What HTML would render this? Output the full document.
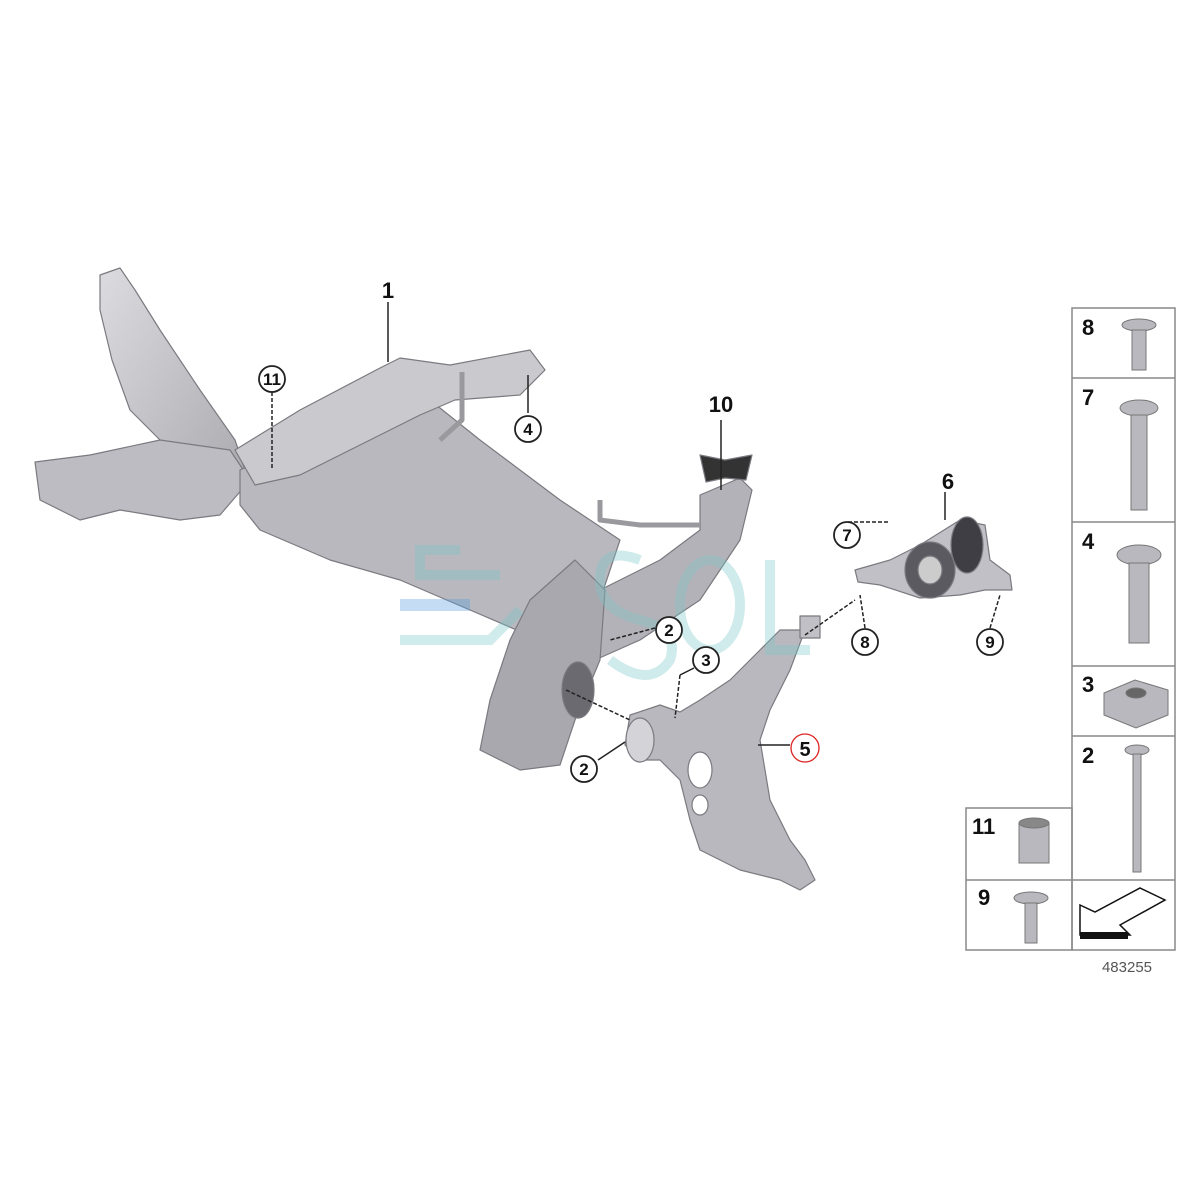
<!DOCTYPE html>
<html><head><meta charset="utf-8"><style>
html,body{margin:0;padding:0;background:#fff;}
svg{display:block}
text{font-family:"Liberation Sans",sans-serif;font-weight:bold;fill:#111}
</style></head><body>
<svg width="1200" height="1200" viewBox="0 0 1200 1200">
<defs>
<linearGradient id="g" x1="0" y1="0" x2="1" y2="1"><stop offset="0" stop-color="#dcdce0"/><stop offset="1" stop-color="#a8a8ae"/></linearGradient>
</defs>
<g stroke="#7a7a80" stroke-width="1.2" stroke-linejoin="round">
<!-- left tower -->
<path d="M100,275 L120,268 L135,290 L160,330 L200,390 L235,440 L245,470 L210,500 L190,470 L160,440 L130,410 L112,360 L100,310 Z" fill="url(#g)"/>
<!-- left bracket -->
<path d="M35,462 L90,455 L160,440 L230,450 L250,480 L220,515 L180,520 L120,510 L80,520 L40,500 Z" fill="#bcbcc2"/>
<!-- center body -->
<path d="M240,470 L330,430 L430,400 L480,440 L560,500 L620,540 L600,600 L580,650 L540,640 L470,610 L400,580 L330,560 L260,530 L240,505 Z" fill="#b8b8be"/>
<!-- top rail -->
<path d="M235,450 L300,410 L380,368 L400,358 L450,365 L530,350 L545,370 L520,395 L455,400 L420,415 L360,445 L300,475 L255,485 Z" fill="#cacace"/>
<!-- right arm -->
<path d="M700,495 L740,478 L752,490 L740,540 L700,600 L640,640 L595,660 L575,640 L600,590 L660,560 L700,530 Z" fill="#b2b2b8"/>
<!-- front leg -->
<path d="M530,600 L575,560 L605,590 L600,660 L575,720 L560,765 L520,770 L480,750 L490,700 L510,640 Z" fill="#a8a8ae"/>
<ellipse cx="578" cy="690" rx="16" ry="28" fill="#6a6a70"/>
<!-- control arm -->
<path d="M630,715 L660,705 L680,712 L700,700 L730,680 L760,650 L780,630 L805,630 L790,670 L770,710 L760,740 L770,800 L790,840 L805,860 L815,880 L800,890 L780,880 L740,870 L700,850 L690,820 L680,780 L660,760 L640,760 L625,745 Z" fill="#b8b8be"/>
<ellipse cx="640" cy="740" rx="14" ry="22" fill="#d4d4d8"/>
<ellipse cx="700" cy="770" rx="12" ry="18" fill="#fff"/>
<ellipse cx="700" cy="805" rx="8" ry="10" fill="#fff"/>
<rect x="800" y="616" width="20" height="22" fill="#c0c0c6"/>
<!-- part 6 mount -->
<path d="M855,570 L890,560 L920,545 L960,520 L985,525 L990,560 L1010,575 L1012,590 L985,590 L960,595 L920,598 L880,585 L858,582 Z" fill="#c0c0c6"/>
<ellipse cx="930" cy="570" rx="25" ry="28" fill="#5a5a60"/>
<ellipse cx="930" cy="570" rx="12" ry="14" fill="#ccc"/>
<ellipse cx="967" cy="545" rx="16" ry="28" fill="#3e3e44"/>
<path d="M700,455 L725,460 L752,455 L746,480 L725,478 L706,482 Z" fill="#333"/>
<path d="M600,500 L600,520 L640,525 L700,525" fill="none" stroke="#9a9a9e" stroke-width="5"/>
<path d="M462,372 L462,420 L440,440" fill="none" stroke="#9a9a9e" stroke-width="5"/>
</g>
<!-- watermark -->
<g fill="none" opacity="0.35" stroke-width="10">
<path d="M400,605 L470,605" stroke="#5aa0e0" stroke-width="12"/>
<path d="M460,550 L420,550 L420,575 L500,575" stroke="#7cc8c8"/>
<path d="M400,640 L490,640 L520,610" stroke="#7cc8c8"/>
<path d="M640,560 Q600,545 600,580 Q600,610 640,620 Q680,630 670,660 Q650,690 610,660" stroke="#7cc8c8"/>
<ellipse cx="710" cy="605" rx="30" ry="45" stroke="#7cc8c8"/>
<path d="M770,560 L770,650 L810,650" stroke="#7cc8c8"/>
</g>
<g stroke="#222" stroke-width="1.5" fill="none">
<line x1="388" y1="302" x2="388" y2="362"/>
<line x1="272" y1="392" x2="272" y2="470" stroke-dasharray="4,2"/>
<line x1="528" y1="375" x2="528" y2="413"/>
<line x1="721" y1="420" x2="721" y2="490"/>
<line x1="945" y1="492" x2="945" y2="520"/>
<line x1="848" y1="522" x2="890" y2="522" stroke-dasharray="4,2"/>
<line x1="865" y1="628" x2="860" y2="595" stroke-dasharray="4,2"/>
<line x1="990" y1="628" x2="1000" y2="595" stroke-dasharray="4,2"/>
<line x1="655" y1="628" x2="610" y2="640" stroke-dasharray="4,2"/>
<line x1="694" y1="668" x2="680" y2="675"/>
<line x1="680" y1="675" x2="675" y2="718" stroke-dasharray="4,2"/>
<line x1="566" y1="690" x2="630" y2="720" stroke-dasharray="4,2"/>
<line x1="598" y1="760" x2="625" y2="742"/>
<line x1="790" y1="745" x2="758" y2="745"/>
<line x1="805" y1="635" x2="855" y2="600" stroke-dasharray="4,2"/>
</g>
<g stroke="#222" stroke-width="1.8" fill="#fff">
<circle cx="272" cy="379" r="13"/><circle cx="528" cy="429" r="13"/>
<circle cx="847" cy="535" r="13"/><circle cx="865" cy="642" r="13"/>
<circle cx="990" cy="642" r="13"/><circle cx="669" cy="630" r="13"/>
<circle cx="706" cy="660" r="13"/><circle cx="584" cy="769" r="13"/>
<circle cx="805" cy="748" r="14" stroke="#d22" stroke-width="1.3"/>
</g>
<g font-size="17" text-anchor="middle">
<text x="272" y="385">11</text><text x="528" y="435">4</text>
<text x="847" y="541">7</text><text x="865" y="648">8</text>
<text x="990" y="648">9</text><text x="669" y="636">2</text>
<text x="706" y="666">3</text><text x="584" y="775">2</text>
<text x="805" y="756" font-size="20">5</text>
<text x="388" y="298" font-size="22">1</text>
<text x="721" y="412" font-size="22">10</text>
<text x="948" y="489" font-size="22">6</text>
</g>
<g stroke="#888" stroke-width="1.5" fill="none">
<rect x="1072" y="308" width="103" height="642"/>
<line x1="1072" y1="378" x2="1175" y2="378"/>
<line x1="1072" y1="522" x2="1175" y2="522"/>
<line x1="1072" y1="666" x2="1175" y2="666"/>
<line x1="1072" y1="736" x2="1175" y2="736"/>
<line x1="1072" y1="880" x2="1175" y2="880"/>
<rect x="966" y="808" width="106" height="142"/>
<line x1="966" y1="880" x2="1072" y2="880"/>
</g>
<g font-size="22">
<text x="1082" y="335">8</text><text x="1082" y="405">7</text>
<text x="1082" y="549">4</text><text x="1082" y="692">3</text>
<text x="1082" y="763">2</text><text x="972" y="834">11</text>
<text x="978" y="905">9</text>
</g>
<g fill="#b8b8be" stroke="#777" stroke-width="1">
<ellipse cx="1139" cy="325" rx="17" ry="6"/><rect x="1132" y="330" width="14" height="40"/>
<ellipse cx="1139" cy="408" rx="19" ry="8"/><rect x="1131" y="415" width="16" height="95"/>
<ellipse cx="1139" cy="555" rx="22" ry="10"/><rect x="1129" y="563" width="20" height="80"/>
<path d="M1104,693 L1135,680 L1168,690 L1168,715 L1136,728 L1104,715 Z"/>
<ellipse cx="1136" cy="693" rx="10" ry="5" fill="#666"/>
<ellipse cx="1137" cy="750" rx="12" ry="5"/><rect x="1133" y="754" width="8" height="118"/>
<rect x="1019" y="823" width="30" height="40"/><ellipse cx="1034" cy="823" rx="15" ry="5" fill="#888"/>
<ellipse cx="1031" cy="898" rx="17" ry="6"/><rect x="1025" y="903" width="12" height="40"/>
</g>
<path d="M1080,905 L1095,912 L1140,888 L1165,900 L1120,925 L1130,935 L1080,935 Z" fill="#fff" stroke="#111" stroke-width="1.5"/>
<rect x="1080" y="932" width="48" height="7" fill="#111"/>
<text x="1127" y="972" font-size="15" text-anchor="middle" style="font-weight:normal;fill:#555">483255</text>
</svg>
</body></html>
